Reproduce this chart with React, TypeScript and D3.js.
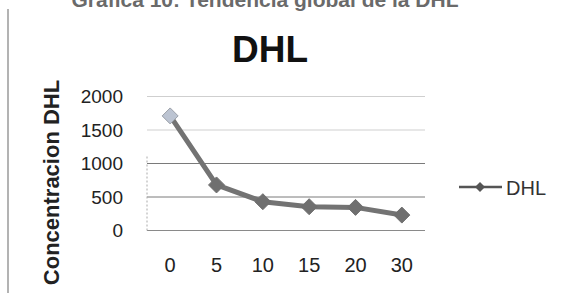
import React from "react";
import * as d3 from "d3";

const categories = ["0", "5", "10", "15", "20", "30"];
const values = [1710, 680, 430, 355, 345, 230];
const yTicks = [0, 500, 1000, 1500, 2000];
const seriesName = "DHL";

export default function App() {
  const W = 563, H = 293;
  const left = 147, right = 425, top = 96.5, bottom = 230.5;
  const x = d3.scaleBand<string>().domain(categories).range([left, right]);
  const y = d3.scaleLinear().domain([0, 2000]).range([bottom, top]);
  const cx = (c: string) => (x(c) as number) + x.bandwidth() / 2;
  const line = d3.line<number>().x((_, i) => cx(categories[i])).y((d) => y(d));
  const diamond = (px: number, py: number, r: number) =>
    `M${px},${py - r}L${px + r},${py}L${px},${py + r}L${px - r},${py}Z`;
  const gridColor = (t: number) => (t >= 1500 ? "#cfcfcf" : t === 0 ? "#8a8a8a" : "#7a7a7a");
  return (
    <svg width={W} height={H} style={{ position: "absolute", left: 0, top: 0, background: "#fff" }}
      fontFamily="'Liberation Sans', Arial, sans-serif">
      <rect x={0} y={0} width={W} height={H} fill="#fff" />
      <text x={265} y={7} textAnchor="middle" fontSize={21} fontWeight="bold" fill="#6a6a6a">
        Grafica 10: Tendencia global de la DHL
      </text>
      <line x1={8} x2={8} y1={9} y2={293} stroke="#9a9a9a" strokeWidth={1.5} />
      <text x={270} y={62} textAnchor="middle" fontSize={37} fontWeight="bold" fill="#111">DHL</text>
      {yTicks.map((t) => (
        <g key={t}>
          <line x1={left} x2={right} y1={y(t)} y2={y(t)} stroke={gridColor(t)} strokeWidth={1} />
          <text x={123} y={y(t)} dy="0.36em" textAnchor="end" fontSize={19} fill="#222">{t}</text>
        </g>
      ))}
      <line x1={left} x2={left} y1={top + 60} y2={bottom} stroke="#aaa" strokeWidth={1} strokeDasharray="2,2" />
      {categories.map((c) => (
        <text key={c} x={cx(c)} y={265} dy="0.36em" textAnchor="middle" fontSize={20} fill="#222">{c}</text>
      ))}
      <text transform={`translate(59,182.5) rotate(-90)`} textAnchor="middle" fontSize={22} fontWeight="bold" fill="#222">
        Concentracion DHL
      </text>
      <path d={line(values) as string} fill="none" stroke="#737373" strokeWidth={5} strokeLinejoin="round" />
      {values.map((v, i) => (
        <path key={i} d={diamond(cx(categories[i]), y(v), 8)}
          fill={i === 0 ? "#bcc4d2" : "#6f6f6f"} stroke={i === 0 ? "#9aa0a8" : "#6f6f6f"} strokeWidth={1} />
      ))}
      <line x1={459} x2={502} y1={187} y2={187} stroke="#555" strokeWidth={2.5} />
      <path d={diamond(480, 187, 5)} fill="#555" />
      <text x={506} y={188} dy="0.36em" fontSize={20} fill="#333">{seriesName}</text>
    </svg>
  );
}
